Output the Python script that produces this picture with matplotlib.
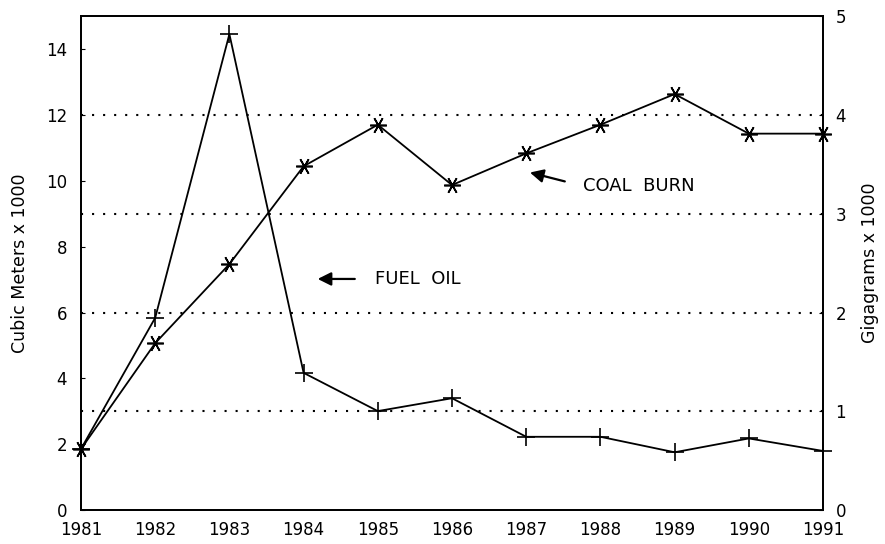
from matplotlib import pyplot as plt

years = [1981, 1982, 1983, 1984, 1985, 1986, 1987, 1988, 1989, 1990, 1991]
# fuel oil, cubic meters x 1000 (left axis)
fuel_oil = [1.86, 5.84, 14.45, 4.17, 3.01, 3.40, 2.23, 2.23, 1.76, 2.18, 1.80]
# coal burn, gigagrams x 1000 (right axis)
coal_burn = [0.62, 1.69, 2.49, 3.48, 3.90, 3.29, 3.61, 3.90, 4.21, 3.81, 3.81]

left_ticks = [0, 2, 4, 6, 8, 10, 12, 14]
right_ticks = [0, 1, 2, 3, 4, 5]
grid_levels = [3, 6, 9, 12]

plt.rcParams['font.family'] = ['DejaVu Sans']

fig = plt.figure(figsize=(8.85, 5.44), dpi=100)
ax = fig.add_axes([0.0915, 0.062, 0.8385, 0.9086])
ax2 = ax.twinx()

ax.plot(years, fuel_oil, color='black', lw=1.3, marker='+', ms=13, mew=1.2, clip_on=False, zorder=3)
ax2.plot(years, coal_burn, color='black', lw=1.3, marker=(6, 2, 30), ms=12, mew=1.2, clip_on=False, zorder=3)

for g in grid_levels:
    ax.axhline(g, color='black', lw=1.5, linestyle=(0, (1, 4.3)), zorder=1)

ax.set_xlim(1981, 1991)
ax.set_ylim(0, 15)
ax2.set_ylim(0, 5)
ax.set_xticks(years)
ax.set_yticks(left_ticks)
ax2.set_yticks(right_ticks)

ax.tick_params(axis='x', length=0, pad=8, labelsize=12)
ax.tick_params(axis='y', length=3, direction='in', pad=10, labelsize=12)
ax2.tick_params(axis='y', length=3, direction='in', pad=9, labelsize=12)

for a in (ax, ax2):
    for s in a.spines.values():
        s.set_linewidth(1.3)

ax.set_ylabel("Cubic Meters x 1000", fontsize=12.5, labelpad=12)
ax2.set_ylabel("Gigagrams x 1000", fontsize=12.5, labelpad=11)

arrow = dict(arrowstyle='-|>', color='black', lw=1.6, mutation_scale=20, shrinkA=0, shrinkB=0)
ax.annotate('', xy=(1984.19, 7.02), xytext=(1984.69, 7.02), arrowprops=arrow)
ax.text(1984.96, 7.02, "FUEL  OIL", fontsize=13, va='center', ha='left')
ax.annotate('', xy=(1987.05, 10.25), xytext=(1987.52, 9.98), arrowprops=arrow)
ax.text(1987.76, 9.85, "COAL  BURN", fontsize=13, va='center', ha='left')

plt.savefig("out.png", dpi=100)
